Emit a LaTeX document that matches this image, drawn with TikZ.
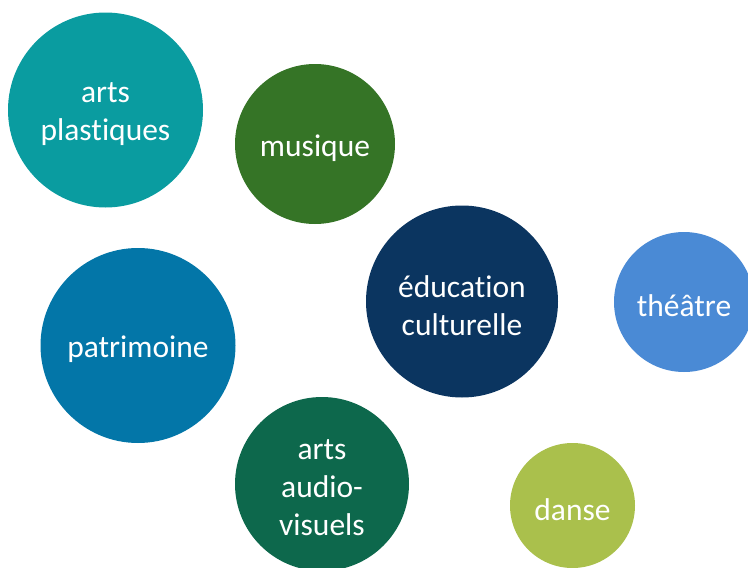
\documentclass[tikz,border=0pt]{standalone}
\usepackage{fontspec}
\setmainfont{Carlito}[Ligatures=CommonOff]
\usepackage{tikz}

\definecolor{sarcelle}{HTML}{0A9CA0}
\definecolor{vertmus}{HTML}{357426}
\definecolor{marine}{HTML}{0B3560}
\definecolor{bleuclair}{HTML}{4A8AD5}
\definecolor{bleupat}{HTML}{0376A8}
\definecolor{vertav}{HTML}{0D684C}
\definecolor{olive}{HTML}{AAC04C}

\begin{document}
\begin{tikzpicture}[x=1pt,y=-1pt,
	bulle/.style={circle,inner sep=0pt,minimum size=#1},
	texte/.style={text=white,align=center,yshift=-4pt,
		font=\fontsize{31.5}{38}\selectfont}]
	\useasboundingbox (0,0) rectangle (748,568); %cadre
	\node[bulle=195pt,fill=sarcelle,label={[texte]center:{arts\\plastiques}}] (plastiques) at (105.5,110) {};
	\node[bulle=160pt,fill=vertmus,label={[texte]center:musique}] (musique) at (315,144) {};
	\node[bulle=192pt,fill=marine,label={[texte]center:{éducation\\culturelle}}] (education) at (462,301.5) {}; %centre
	\node[bulle=140pt,fill=bleuclair,label={[texte]center:théâtre}] (theatre) at (684,302) {};
	\node[bulle=195pt,fill=bleupat,label={[texte]center:patrimoine}] (patrimoine) at (138,345.5) {};
	\node[bulle=174pt,fill=vertav,label={[texte]center:{arts\\audio-\\visuels}}] (audiovisuels) at (322,484) {};
	\node[bulle=125pt,fill=olive,label={[texte]center:danse}] (danse) at (572.5,505.5) {};
\end{tikzpicture}
\end{document}
